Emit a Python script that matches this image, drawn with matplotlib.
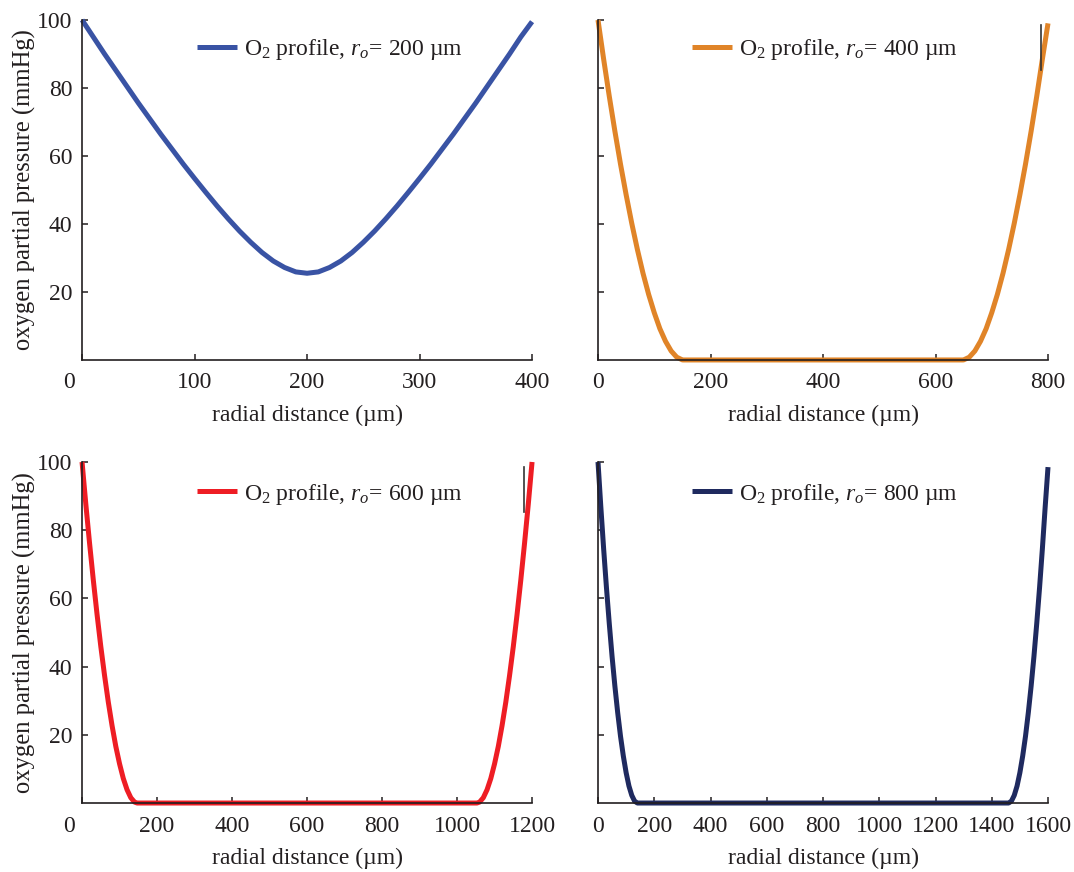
import matplotlib
matplotlib.use('Agg')
import matplotlib.pyplot as plt
from matplotlib.transforms import ScaledTranslation

plt.rcParams['font.family'] = ['Liberation Serif', 'DejaVu Serif']
plt.rcParams['mathtext.fontset'] = 'custom'
plt.rcParams['mathtext.rm'] = 'Liberation Serif'
plt.rcParams['mathtext.it'] = 'Liberation Serif:italic'

# radial distance (um) and O2 partial pressure (mmHg)
x1 = [0, 10, 20, 30, 40, 50, 60, 70, 80, 90, 100, 110, 120, 130, 140, 150, 160, 170, 180, 190, 200,
      210, 220, 230, 240, 250, 260, 270, 280, 290, 300, 310, 320, 330, 340, 350, 360, 370, 380, 390, 400]
p1 = [100, 95.0, 90.0, 85.2, 80.4, 75.6, 71.0, 66.4, 62.0, 57.6, 53.4, 49.3, 45.3, 41.5, 37.9, 34.6,
      31.6, 29.1, 27.2, 25.9, 25.5, 25.9, 27.2, 29.1, 31.6, 34.6, 37.9, 41.5, 45.3, 49.3, 53.4, 57.6,
      62.0, 66.4, 71.0, 75.6, 80.4, 85.2, 90.0, 95.0, 99.5]

x2 = [0, 10, 20, 30, 40, 50, 60, 70, 80, 90, 100, 110, 120, 130, 140, 150, 152,
      648, 650, 660, 670, 680, 690, 700, 710, 720, 730, 740, 750, 760, 770, 780, 790, 800]
p2 = [100, 88.5, 77.6, 67.3, 57.6, 48.6, 40.2, 32.5, 25.5, 19.3, 13.9, 9.2, 5.5, 2.65, 0.81, 0.02, 0,
      0, 0.02, 0.81, 2.65, 5.5, 9.2, 13.9, 19.3, 25.5, 32.5, 40.2, 48.6, 57.6, 67.3, 77.6, 88.5, 99]

x3 = [0, 10, 20, 30, 40, 50, 60, 70, 80, 90, 100, 110, 120, 130, 140, 147,
      1053, 1060, 1070, 1080, 1090, 1100, 1110, 1120, 1130, 1140, 1150, 1160, 1170, 1180, 1190, 1200]
p3 = [100, 87.7, 76.2, 65.4, 55.3, 45.9, 37.4, 29.6, 22.7, 16.6, 11.5, 7.2, 3.9, 1.56, 0.27, 0,
      0, 0.27, 1.56, 3.9, 7.2, 11.5, 16.6, 22.7, 29.6, 37.4, 45.9, 55.3, 65.4, 76.2, 87.7, 100]

x4 = [0, 10, 20, 30, 40, 50, 60, 70, 80, 90, 100, 110, 120, 130, 140,
      1460, 1470, 1480, 1490, 1500, 1510, 1520, 1530, 1540, 1550, 1560, 1570, 1580, 1590, 1600]
p4 = [100, 86.9, 74.6, 63.2, 52.7, 43.0, 34.3, 26.5, 19.6, 13.8, 8.9, 5.0, 2.26, 0.57, 0,
      0, 0.57, 2.26, 5.0, 8.9, 13.8, 19.6, 26.5, 34.3, 43.0, 52.7, 63.2, 74.6, 86.9, 98.5]

radii = [200, 400, 600, 800]
xmax = [400, 800, 1200, 1600]
xticks = [[0, 100, 200, 300, 400],
          [0, 200, 400, 600, 800],
          [0, 200, 400, 600, 800, 1000, 1200],
          [0, 200, 400, 600, 800, 1000, 1200, 1400, 1600]]
yticks = [20, 40, 60, 80, 100]
colors = ['#3953A4', '#E08428', '#EE1D24', '#1F2A5F']

# stray vertical strokes seen in the original (panels 2 and 3)
mark2_x = [787, 787]
mark2_y = [85.3, 98.5]
mark3_x = [1179, 1179]
mark3_y = [85.3, 98.5]

fig = plt.figure(figsize=(10.74, 8.72), dpi=100)
positions = [[0.0764, 0.5872, 0.4190, 0.3899],
             [0.5568, 0.5872, 0.4190, 0.3899],
             [0.0764, 0.0791, 0.4190, 0.3911],
             [0.5568, 0.0791, 0.4190, 0.3911]]
xs = [x1, x2, x3, x4]
ps = [p1, p2, p3, p4]
legend_x = [0.2556, 0.209, 0.2556, 0.209]
legend_y = [0.912, 0.912, 0.906, 0.906]
ink = '#231F20'

for i in range(4):
    ax = fig.add_axes(positions[i])
    ax.plot(xs[i], ps[i], color=colors[i], lw=3.6, solid_capstyle='butt', clip_on=False,
            label=r'O$_2$ profile, $r_o$= ' + str(radii[i]) + ' µm')
    if i == 1:
        ax.plot(mark2_x, mark2_y, color='#333333', lw=1.2)
    if i == 2:
        ax.plot(mark3_x, mark3_y, color='#333333', lw=1.2)
    ax.set_xlim(0, xmax[i])
    ax.set_ylim(0, 100)
    ax.set_xticks(xticks[i])
    ax.set_yticks(yticks)
    for s in ['top', 'right']:
        ax.spines[s].set_visible(False)
    for s in ['left', 'bottom']:
        ax.spines[s].set_linewidth(1.2)
        ax.spines[s].set_color(ink)
    ax.tick_params(direction='in', length=4, width=1.1, color=ink, labelcolor=ink,
                   labelsize=17, pad=7)
    ax.tick_params(axis='x', pad=9)
    ax.set_xlabel('radial distance (µm)', fontsize=17, color=ink, labelpad=8)
    if i % 2 == 0:
        ax.set_ylabel('oxygen partial pressure (mmHg)', fontsize=17.7, color=ink, labelpad=1)
        lab = ax.xaxis.get_major_ticks()[0].label1
        lab.set_transform(lab.get_transform() + ScaledTranslation(-0.13, 0, fig.dpi_scale_trans))
    else:
        ax.set_yticklabels([])
    leg = ax.legend(loc='center left', bbox_to_anchor=(legend_x[i], legend_y[i]), frameon=False,
                    handlelength=1.7, handletextpad=0.3, borderpad=0, borderaxespad=0, fontsize=17)
    for t in leg.get_texts():
        t.set_color(ink)

fig.savefig('out.png', dpi=100)
